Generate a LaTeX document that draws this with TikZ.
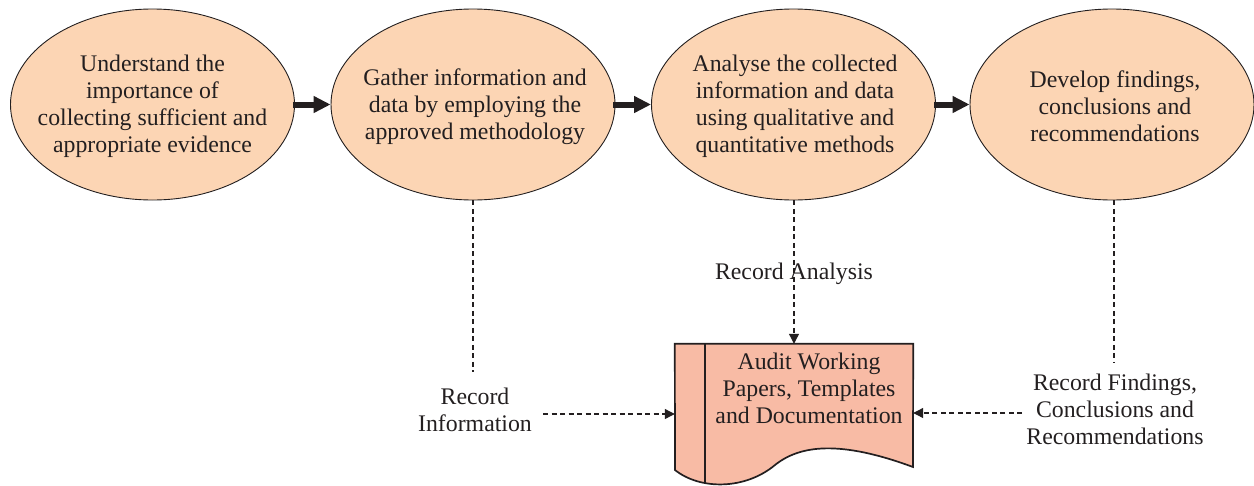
\documentclass[tikz,border=0pt]{standalone}
\usepackage{fontspec}
\setmainfont{Liberation Serif}
\usetikzlibrary{shapes.geometric,arrows.meta}
\definecolor{stepfill}{HTML}{FCD5B4}
\definecolor{docfill}{HTML}{F8BBA5}
\definecolor{ink}{HTML}{231F20}
\tikzset{
  stepnode/.style={ellipse, draw=ink, line width=0.9pt, fill=stepfill,
    minimum width=284pt, minimum height=191pt, inner sep=0pt},
  labelnode/.style={align=center, text=ink, inner sep=0pt,
    font=\fontsize{23.8}{27}\selectfont},
  flowarrow/.style={draw=ink, line width=6pt,
    -{Triangle[length=17pt,width=16pt]}},
  recline/.style={draw=ink, line width=1.1pt, dash pattern=on 5pt off 3.5pt},
  recarrow/.style={recline, -{Triangle[length=10pt,width=10pt]}},
}
\begin{document}
\begin{tikzpicture}[x=1pt,y=-1pt]
\useasboundingbox (0,0) rectangle (1254,485);

% process steps
\node[stepnode] (e1) at (152.5,104.5) {};
\node[stepnode] (e2) at (473,104.5) {};
\node[stepnode] (e3) at (793.5,104.5) {};
\node[stepnode] (e4) at (1112,104.5) {};
\node[labelnode] (t1) at (152.5,106.5) {Understand the\\importance of\\collecting sufficient and\\appropriate evidence};
\node[labelnode] (t2) at (475,106.5) {Gather information and\\data by employing the\\approved methodology};
\node[labelnode] (t3) at (795,106.5) {Analyse the collected\\information and data\\using qualitative and\\quantitative methods};
\node[labelnode] (t4) at (1115,106.5) {Develop findings,\\conclusions and\\recommendations};

\draw[flowarrow] ([xshift=-2pt]e1.east) -- (e2.west);
\draw[flowarrow] ([xshift=-2pt]e2.east) -- (e3.west);
\draw[flowarrow] ([xshift=-2pt]e3.east) -- (e4.west);

% document holding the working papers
\node[minimum width=238pt, minimum height=126pt, inner sep=0pt] (doc) at (794,407) {};
\draw[ink, line width=1.7pt, fill=docfill]
  (doc.north west) -- (doc.north east) -- (913,467)
  .. controls (840,440) and (800,445) .. (775,465)
  .. controls (745,490) and (700,490) .. (675,470) -- cycle;
\draw[ink, line width=1.7pt] (705,344) -- (705,483);
\node[labelnode] (doctext) at (809,388) {Audit Working\\Papers, Templates\\and Documentation};

% recording links
\coordinate (infoend) at (473,372);
\coordinate (findend) at (1114,363);
\draw[recline] (e2.south) -- (infoend);
\draw[recline] (e4.south -| findend) -- (findend);

\node[labelnode] (recinfo) at (475,409.5) {Record\\Information};
\node[labelnode] (recfind) at (1115,409.5) {Record Findings,\\Conclusions and\\Recommendations};
\node[labelnode] (recanal) at (794,274) {Record Analysis};

\coordinate (infostart) at (543,414);
\coordinate (findstart) at (1022,413);
\draw[recarrow] (infostart) -- (infostart -| doc.west);
\draw[recarrow] (findstart) -- (findstart -| doc.east);
\draw[recarrow] (e3.south -| doc.north) -- (doc.north);
\end{tikzpicture}
\end{document}
